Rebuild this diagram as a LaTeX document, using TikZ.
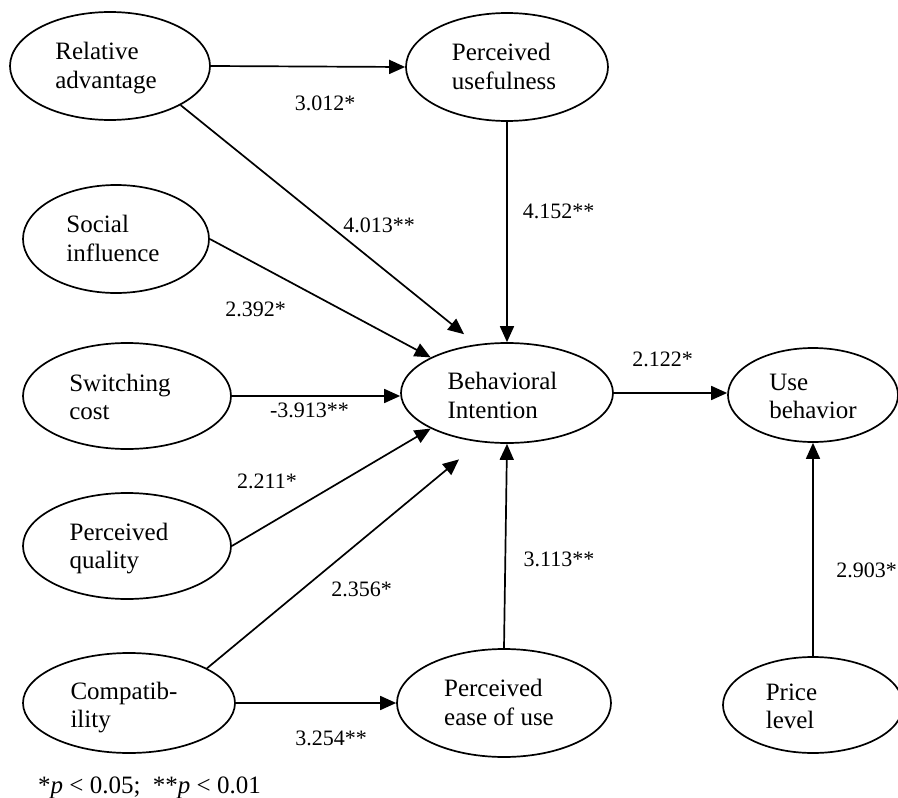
\documentclass[tikz,border=0pt]{standalone}
\usepackage{fontspec}
\setmainfont{Liberation Serif}
\usetikzlibrary{shapes.geometric,arrows.meta}

\tikzset{
  construct/.style={draw, ellipse, line width=1.7pt, inner sep=0pt},
  ctext/.style={inner sep=0pt, align=left, font=\fontsize{25}{28.5}\selectfont},
  coef/.style={inner sep=0pt, anchor=base, font=\fontsize{22}{26}\selectfont},
  path/.style={line width=1.7pt, -{Triangle[length=16pt,width=14pt]}},
}

\begin{document}
\begin{tikzpicture}[x=1pt, y=-1pt]
\useasboundingbox (0,0) rectangle (898,798);

% constructs (ellipse outline) and their captions
\node[construct, minimum width=200pt, minimum height=108pt] (ra)  at (110,66)  {};
\node[construct, minimum width=202pt, minimum height=108pt] (pu)  at (507,67)  {};
\node[construct, minimum width=186pt, minimum height=108pt] (si)  at (116,239) {};
\node[construct, minimum width=208pt, minimum height=106pt] (sc)  at (127,396) {};
\node[construct, minimum width=212pt, minimum height=100pt] (bi)  at (507,393) {};
\node[construct, minimum width=170pt, minimum height=94pt]  (ub)  at (813,395) {};
\node[construct, minimum width=208pt, minimum height=106pt] (pq)  at (127,546) {};
\node[construct, minimum width=212pt, minimum height=100pt] (cp)  at (129,703) {};
\node[construct, minimum width=214pt, minimum height=108pt] (peu) at (504,703) {};
\node[construct, minimum width=180pt, minimum height=96pt]  (pl)  at (813,705) {};

\node[ctext] (ra-t)  at (106,68)    {Relative\\advantage};
\node[ctext] (pu-t)  at (504,66.5)  {Perceived\\usefulness};
\node[ctext] (si-t)  at (113,238.5) {Social\\influence};
\node[ctext] (sc-t)  at (120,397)   {Switching\\cost};
\node[ctext] (bi-t)  at (502.5,395.5) {Behavioral\\Intention};
\node[ctext] (ub-t)  at (813,396.5) {Use\\behavior};
\node[ctext] (pq-t)  at (119,548.5) {Perceived\\quality};
\node[ctext] (cp-t)  at (124,707.5) {Compatib-\\ility};
\node[ctext] (peu-t) at (499,702.5) {Perceived\\ease of use};
\node[ctext] (pl-t)  at (791.5,706.5) {Price\\level};

% structural paths
\draw[path] (ra.east) -- (pu.west);
\draw[path, shorten >=16pt] (ra.-29) -- (bi.122);
\draw[path] (pu.south) -- (bi.north);
\draw[path] (si.east) -- (bi.155);
\draw[path] (sc.east) -- (sc.east -| bi.west);
\draw[path] (pq.east) -- (bi.205);
\draw[path, shorten >=27pt] (cp.24) -- (bi.241);
\draw[path] (cp.east) -- (peu.west);
\draw[path] (peu.north) -- (bi.south);
\draw[path] (bi.east) -- (bi.east -| ub.west);
\draw[path] (pl.north) -- (ub.south);

% path coefficients
\node[coef] (c-ra-pu)  at (325,110)   {3.012*};
\node[coef] (c-ra-bi)  at (379,232)   {4.013**};
\node[coef] (c-pu-bi)  at (558.5,218) {4.152**};
\node[coef] (c-si-bi)  at (255.5,316) {2.392*};
\node[coef] (c-sc-bi)  at (309.5,417) {-3.913**};
\node[coef] (c-pq-bi)  at (267,488)   {2.211*};
\node[coef] (c-cp-bi)  at (361.5,596) {2.356*};
\node[coef] (c-cp-peu) at (331,745)   {3.254**};
\node[coef] (c-peu-bi) at (559,566)   {3.113**};
\node[coef] (c-bi-ub)  at (662.5,366) {2.122*};
\node[coef] (c-pl-ub)  at (866.5,577) {2.903*};

% significance note
\node[inner sep=0pt, anchor=base west, font=\fontsize{25}{28}\selectfont] (note) at (38,793)
  {*\textit{p} < 0.05;\enspace **\textit{p} < 0.01};
\end{tikzpicture}
\end{document}
